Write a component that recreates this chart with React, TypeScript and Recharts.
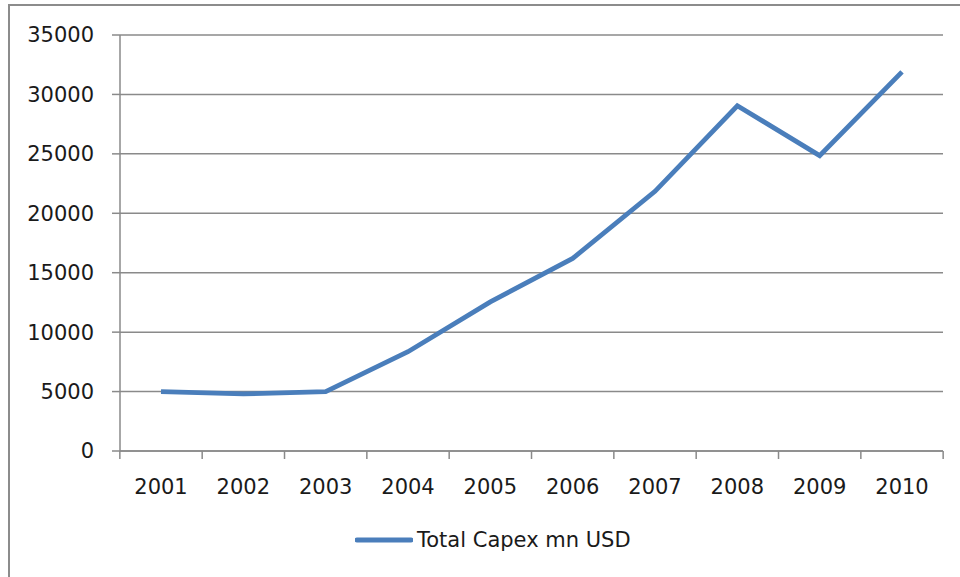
import { LineChart, Line, XAxis, YAxis, CartesianGrid, Legend } from 'recharts'

const years = ['2001', '2002', '2003', '2004', '2005', '2006', '2007', '2008', '2009', '2010']
const capex = [5000, 4800, 5000, 8350, 12550, 16200, 21850, 29050, 24850, 31900]
const yTicks = [0, 5000, 10000, 15000, 20000, 25000, 30000, 35000]

const BLUE = '#4a7ebb'
const GRID = '#8a8a8a'
const FONT = '"DejaVu Sans", sans-serif'

const data = years.map((year, i) => ({ year, 'Total Capex mn USD': capex[i] }))

// Excel-style category ticks: marks sit on band edges, labels in the middle
// eslint-disable-next-line @typescript-eslint/no-explicit-any
const CategoryTick = (props: any) => {
  const { x, y, payload, index, width, visibleTicksCount } = props
  const half = width / visibleTicksCount / 2
  return (
    <g>
      <line x1={x - half} x2={x - half} y1={y - 8} y2={y} stroke={GRID} strokeWidth={1.5} />
      {index === visibleTicksCount - 1 && (
        <line x1={x + half} x2={x + half} y1={y - 8} y2={y} stroke={GRID} strokeWidth={1.5} />
      )}
      <text x={x} y={y + 35} textAnchor="middle" fill="#1a1a1a" fontSize={21} fontFamily={FONT}>
        {payload.value}
      </text>
    </g>
  )
}

const LegendContent = () => (
  <div style={{ display: 'flex', alignItems: 'center', fontFamily: FONT, fontSize: 21, color: '#1a1a1a' }}>
    <svg width={58} height={10} style={{ marginRight: 4 }}>
      <line x1={2} x2={56} y1={5} y2={5} stroke={BLUE} strokeWidth={5} strokeLinecap="round" />
    </svg>
    <span>Total Capex mn USD</span>
  </div>
)

export default function App() {
  return (
    <div style={{ position: 'absolute', top: 4, left: 8, width: 960, height: 580, borderTop: '2px solid #8c8c8c', borderLeft: '2px solid #8c8c8c', boxSizing: 'border-box', background: '#fff', overflow: 'hidden' }}>
      <LineChart width={950} height={571} data={data} margin={{ top: 29, right: 17, bottom: 66, left: 0 }}>
        <CartesianGrid vertical={false} stroke={GRID} strokeWidth={1.5} />
        <XAxis
          dataKey="year"
          height={60}
          padding={{ left: 41, right: 41 }}
          axisLine={{ stroke: GRID, strokeWidth: 1.5 }}
          tickLine={false}
          interval={0}
          tick={<CategoryTick />}
        />
        <YAxis
          width={110}
          domain={[0, 35000]}
          ticks={yTicks}
          interval={0}
          axisLine={{ stroke: GRID, strokeWidth: 1.5 }}
          tickLine={{ stroke: GRID, strokeWidth: 1.5 }}
          tickSize={8}
          tickMargin={18}
          tick={{ fill: '#1a1a1a', fontSize: 21, fontFamily: FONT }}
        />
        <Legend
          content={<LegendContent />}
          layout="horizontal"
          verticalAlign="middle"
          align="center"
          wrapperStyle={{ position: 'absolute', left: 345, top: 522, width: 'auto' }}
        />
        <Line type="linear" dataKey="Total Capex mn USD" stroke={BLUE} strokeWidth={4.8} dot={false} isAnimationActive={false} />
      </LineChart>
    </div>
  )
}
